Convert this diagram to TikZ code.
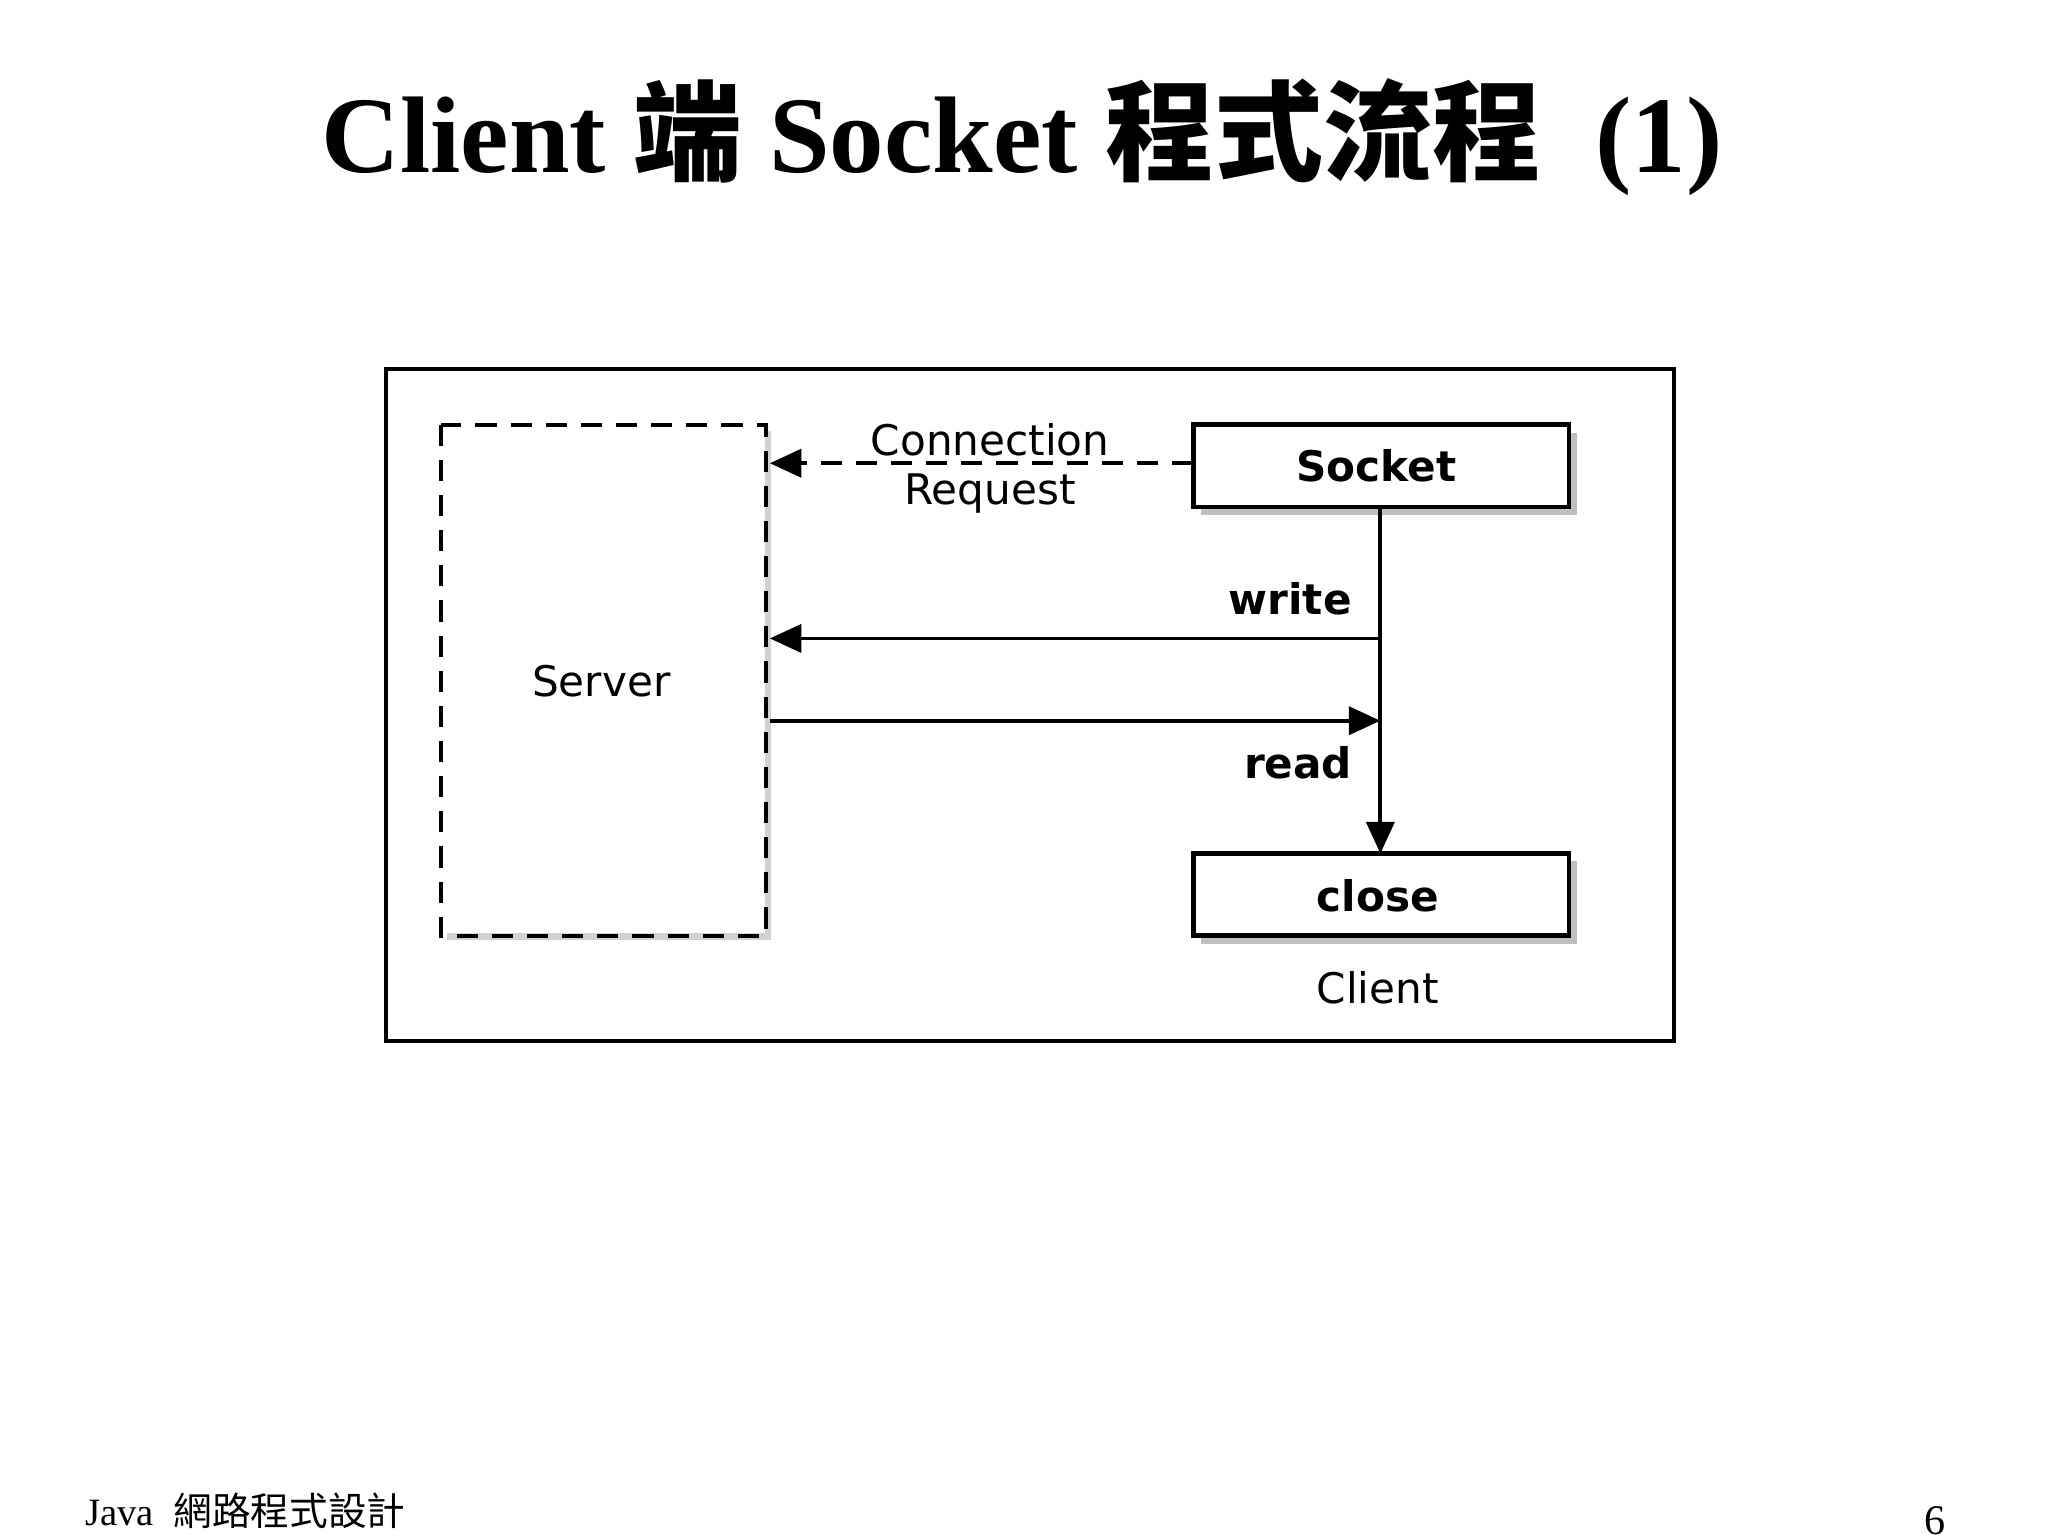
\documentclass[tikz,border=0pt]{standalone}
\usepackage{fontspec}
\setmainfont{Liberation Serif}
\newfontfamily\cjk{Noto Sans CJK TC}
\newfontfamily\djsans{DejaVu Sans}
\usetikzlibrary{arrows.meta}
\begin{document}
\begin{tikzpicture}[x=0.013273cm,y=-0.013273cm,
  lbl/.style={font=\djsans\fontsize{12}{14}\selectfont},
  blbl/.style={font=\djsans\bfseries\fontsize{12}{14}\selectfont},
  arr/.style={line width=1.1pt,-{Triangle[length=9pt,width=8pt]}}]
\useasboundingbox (0,0) rectangle (1543,1157);
\node[font=\bfseries\fontsize{31}{36}\selectfont] (title) at (770,103) {Client {\cjk\bfseries 端} Socket {\cjk\bfseries 程式流程}\ \ (1)};
\draw[line width=1.1pt] (291,278) rectangle (1261,784);
% server
\fill[gray!35] (337,703) rectangle (581,708);
\fill[gray!35] (576,325) rectangle (581,708);
\draw[line width=1.1pt,dash pattern=on 6pt off 4pt] (332,320) rectangle (577,705);
\node[lbl] (server) at (453,513) {Server};
\coordinate (sw) at (580,349);
\coordinate (sw2) at (580,481);
\coordinate (sr) at (580,543);
% socket box
\fill[gray!50] (905,326) rectangle (1188,388);
\fill[white] (899,320) rectangle (1182,382);
\draw[line width=1.3pt] (899,320) rectangle (1182,382);
\node[blbl] (socket) at (1037,351) {Socket};
\coordinate (socketW) at (899,349);
\coordinate (socketS) at (1040,382);
% close box
\fill[gray!50] (905,649) rectangle (1188,711);
\fill[white] (899,643) rectangle (1182,705);
\draw[line width=1.3pt] (899,643) rectangle (1182,705);
\node[blbl] (close) at (1038,675) {close};
\coordinate (closeN) at (1040,643);
\node[lbl] (client) at (1038,744) {Client};
% arrows
\draw[arr,dash pattern=on 6pt off 4pt] (socketW) -- (sw);
\node[lbl] (conn) at (746,331) {Connection};
\node[lbl] (req) at (746,372) {Request};
\draw[arr] (socketS) -- (closeN);
\coordinate (wr) at (1040,481);
\coordinate (rd) at (1040,543);
\draw[arr] (wr) -- (sw2);
\draw[arr] (sr) -- (rd);
\node[blbl] (write) at (972,451) {write};
\node[blbl] (read) at (978,575) {read};
% footer
\node[anchor=west,font=\fontsize{11}{13}\selectfont] (foot) at (55,1138) {Java\ \ {\cjk 網路程式設計}};
\node[font=\fontsize{12}{14}\selectfont] (page) at (1458,1146) {6};
\end{tikzpicture}
\end{document}
